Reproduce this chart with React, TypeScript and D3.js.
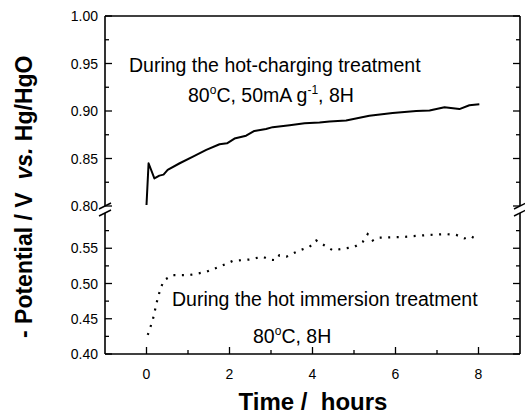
import React from "react";
import * as d3 from "d3";

const chargeTime = [0, 0.05, 0.19, 0.31, 0.41, 0.51, 0.8, 1.12, 1.44, 1.76, 1.94, 2.12, 2.4, 2.6, 2.88, 3.04, 3.45, 3.81, 4.17, 4.41, 4.81, 5.37, 5.93, 6.5, 6.82, 7.18, 7.54, 7.78, 8.02];
const chargeV = [0.801, 0.845, 0.829, 0.832, 0.833, 0.838, 0.845, 0.852, 0.859, 0.865, 0.866, 0.871, 0.874, 0.879, 0.881, 0.883, 0.885, 0.887, 0.888, 0.889, 0.89, 0.895, 0.898, 0.9, 0.9005, 0.904, 0.902, 0.906, 0.907];

const immTime = [0.03, 0.15, 0.27, 0.35, 0.43, 0.63, 1.04, 1.44, 1.76, 2.08, 2.48, 2.8, 2.96, 3.12, 3.2, 3.37, 3.69, 3.93, 4.09, 4.29, 4.49, 4.81, 5.01, 5.21, 5.33, 5.45, 5.57, 6.18, 6.82, 7.22, 7.46, 7.66, 7.82, 7.94];
const immV = [0.427, 0.448, 0.479, 0.495, 0.505, 0.512, 0.512, 0.5165, 0.524, 0.532, 0.534, 0.538, 0.534, 0.533, 0.54, 0.538, 0.547, 0.552, 0.561, 0.554, 0.547, 0.55, 0.552, 0.559, 0.57, 0.561, 0.565, 0.566, 0.569, 0.57, 0.569, 0.564, 0.567, 0.563];

const xTicks = [0, 2, 4, 6, 8];
const xMinor = [1, 3, 5, 7];
const yUpperTicks = [0.8, 0.85, 0.9, 0.95, 1.0];
const yUpperMinor = [0.825, 0.875, 0.925, 0.975];
const yLowerTicks = [0.4, 0.45, 0.5, 0.55];
const yLowerMinor = [0.425, 0.475, 0.525, 0.575];

export default function App() {
  const L = 105, R = 520, T = 16, B = 354;
  const x = d3.scaleLinear().domain([-1, 9]).range([L, R]);
  const yU = d3.scaleLinear().domain([0.8, 1.0]).range([206, T]);
  const yL = d3.scaleLinear().domain([0.4, 0.6]).range([B, 213]);

  const lineU = d3.line<number>().x((_, i) => x(chargeTime[i])).y((v) => yU(v));
  const lineL = d3.line<number>().x((_, i) => x(immTime[i])).y((v) => yL(v));

  const font = "Arial, 'Liberation Sans', sans-serif";
  const sw = 1.6;
  const af = 19.5;

  const yTickEls: React.ReactNode[] = [];
  const addY = (y: number, len: number, label: string | null, k: string) => {
    yTickEls.push(<line key={"l" + k} x1={L} x2={L + len} y1={y} y2={y} stroke="#000" strokeWidth={1.3} />);
    yTickEls.push(<line key={"r" + k} x1={R} x2={R - len} y1={y} y2={y} stroke="#000" strokeWidth={1.3} />);
    if (label) yTickEls.push(<text key={"t" + k} x={98} y={y + 5} textAnchor="end" fontSize={14} fontFamily={font}>{label}</text>);
  };
  yUpperTicks.forEach((v) => addY(yU(v), 7, d3.format(".2f")(v), "u" + v));
  yUpperMinor.forEach((v) => addY(yU(v), 4, null, "um" + v));
  yLowerTicks.forEach((v) => addY(yL(v), 7, d3.format(".2f")(v), "l" + v));
  yLowerMinor.forEach((v) => addY(yL(v), 4, null, "lm" + v));

  const breakMarks = (ax: number) => (
    <g>
      <line x1={ax - 6} x2={ax + 6} y1={209} y2={203} stroke="#000" strokeWidth={1.4} />
      <line x1={ax - 6} x2={ax + 6} y1={216} y2={210} stroke="#000" strokeWidth={1.4} />
    </g>
  );

  return (
    <svg width={525} height={414} style={{ position: "absolute", left: 0, top: 0, background: "#fff" }}>
      <rect x={0} y={0} width={525} height={414} fill="#fff" />
      <line x1={L} x2={R} y1={T} y2={T} stroke="#000" strokeWidth={sw} />
      <line x1={L} x2={R} y1={B} y2={B} stroke="#000" strokeWidth={sw} />
      <line x1={L} x2={L} y1={T} y2={206} stroke="#000" strokeWidth={sw} />
      <line x1={L} x2={L} y1={213} y2={B} stroke="#000" strokeWidth={sw} />
      <line x1={R} x2={R} y1={T} y2={206} stroke="#000" strokeWidth={sw} />
      <line x1={R} x2={R} y1={213} y2={B} stroke="#000" strokeWidth={sw} />
      {breakMarks(L)}
      {breakMarks(R)}
      {yTickEls}
      {xTicks.map((t) => (
        <g key={"x" + t}>
          <line x1={x(t)} x2={x(t)} y1={B} y2={B - 7} stroke="#000" strokeWidth={1.3} />
          <text x={x(t)} y={379} textAnchor="middle" fontSize={14} fontFamily={font}>{t}</text>
        </g>
      ))}
      {xMinor.map((t) => (
        <line key={"xm" + t} x1={x(t)} x2={x(t)} y1={B} y2={B - 4} stroke="#000" strokeWidth={1.3} />
      ))}
      <path d={lineU(chargeV) || ""} fill="none" stroke="#000" strokeWidth={2} strokeLinejoin="round" />
      <path d={lineL(immV) || ""} fill="none" stroke="#000" strokeWidth={2.2} strokeDasharray="2 6.5" />
      <text x={129} y={72} fontSize={af} fontFamily={font}>During the hot-charging treatment</text>
      <text x={188} y={102} fontSize={af} fontFamily={font}>
        80<tspan fontSize={12} dy={-8}>o</tspan><tspan dy={8}>C, 50mA g</tspan><tspan fontSize={12} dy={-8}>-1</tspan><tspan dy={8}>, 8H</tspan>
      </text>
      <text x={172} y={306} fontSize={af} fontFamily={font}>During the hot immersion treatment</text>
      <text x={253} y={343} fontSize={af} fontFamily={font}>
        80<tspan fontSize={12} dy={-8}>o</tspan><tspan dy={8}>C, 8H</tspan>
      </text>
      <text x={313} y={410} textAnchor="middle" fontSize={24} fontWeight="bold" fontFamily={font} style={{ whiteSpace: "pre" }}>Time /  hours</text>
      <text transform="translate(32,338) rotate(-90)" textAnchor="start" fontSize={23} fontWeight="bold" fontFamily={font} style={{ whiteSpace: "pre" }}>
        {"- Potential / V  "}<tspan fontStyle="italic">vs.</tspan>{" Hg/HgO"}
      </text>
    </svg>
  );
}
